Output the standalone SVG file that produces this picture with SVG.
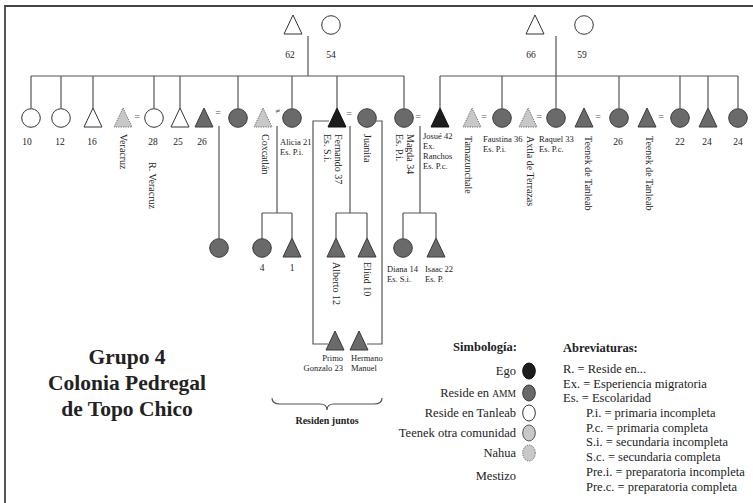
<svg xmlns="http://www.w3.org/2000/svg" xmlns:xlink="http://www.w3.org/1999/xlink" width="753" height="503" viewBox="0 0 753 503">
<style>
text{font-family:"Liberation Serif","Times New Roman",serif;fill:#222}
.frame{fill:none;stroke:#444;stroke-width:1.8}
.ln{fill:none;stroke:#555;stroke-width:1.2}
.white{fill:#fff;stroke:#333;stroke-width:1}
.amm{fill:#6a6a6a;stroke:#3a3a3a;stroke-width:1}
.ego{fill:#1c1c1c;stroke:#111;stroke-width:1}
.teenek{fill:#c8c8c8;stroke:#555;stroke-width:1}
.nahua{fill:#c8c8c8;stroke:#666;stroke-width:1;stroke-dasharray:1.2 1.2}
.num{font-size:9.5px;text-anchor:middle}
.lab{font-size:8.5px}
.vt{font-size:10px}
.eq{font-size:10px;fill:#555;text-anchor:middle}
.title{font-size:21.5px;font-weight:bold;text-anchor:middle}
.leg{font-size:12.5px;text-anchor:end}
.abr{font-size:12.5px}
.hd{font-size:12.5px;font-weight:bold}
</style>
<defs>
<path id="tri" d="M0,-10 L9,9 L-9,9 Z"/>
<circle id="cir" r="9.3"/>
</defs>
<path class="frame" d="M5,503 V6 H753"/>

<g id="connectors">
<path class="ln" d="M308,36 V76 M31,76 H404 M31,76 V108 M61,76 V108 M93,76 V108 M154,76 V108 M180,76 V108 M238,76 V108 M292,76 V108 M337,76 V108 M404,76 V108"/>
<path class="ln" d="M556,36 V76 M440,76 H738 M440,76 V108 M502,76 V108 M556,76 V108 M619,76 V108 M680,76 V108 M708,76 V108 M738,76 V108"/>
<path class="ln" d="M219,126 V238.5"/>
<path class="ln" d="M277,126 V213 M262,213 H292 M262,213 V238.5 M292,213 V238"/>
<path class="ln" d="M350,126 V213 M336,213 H367 M336,213 V238 M367,213 V238"/>
<path class="ln" d="M420,126 V213 M403,213 H436 M403,213 V238.5 M436,213 V238"/>
<path class="ln" d="M329,121 H313 V344 H328 M376,121 H382 V344 H367"/>
<path class="ln" d="M272,398 Q272,404 280,404 H320 Q327,404 327,410 Q327,404 334,404 H374 Q382,404 382,398"/>
</g>

<g id="n62"><use xlink:href="#tri" class="white" x="293" y="25"/><text class="num" x="290" y="58">62</text></g>
<g id="n54"><use xlink:href="#cir" class="white" x="331" y="25"/><text class="num" x="331" y="58">54</text></g>
<g id="n66"><use xlink:href="#tri" class="white" x="535" y="25"/><text class="num" x="531" y="58">66</text></g>
<g id="n59"><use xlink:href="#cir" class="white" x="584" y="25"/><text class="num" x="582" y="58">59</text></g>

<g id="n10"><use xlink:href="#cir" class="white" x="31" y="118"/><text class="num" x="27" y="145">10</text></g>
<g id="n12"><use xlink:href="#cir" class="white" x="61" y="118"/><text class="num" x="60" y="145">12</text></g>
<g id="n16"><use xlink:href="#tri" class="white" x="93" y="118"/><text class="num" x="92" y="145">16</text></g>
<g id="nVeracruz"><use xlink:href="#tri" class="nahua" x="123" y="118"/><text class="vt" transform="translate(119.5,134) rotate(90)">Veracruz</text></g>
<text class="eq" x="137" y="120">=</text>
<g id="n28"><use xlink:href="#cir" class="white" x="154" y="118"/><text class="num" x="153" y="145">28</text><text class="vt" transform="translate(148.5,162) rotate(90)">R. Veracruz</text></g>
<g id="n25"><use xlink:href="#tri" class="white" x="180" y="118"/><text class="num" x="178" y="145">25</text></g>
<g id="n26"><use xlink:href="#tri" class="amm" x="204" y="118"/><text class="num" x="202" y="145">26</text></g>
<text class="eq" x="218" y="116">=</text>
<g id="nF1"><use xlink:href="#cir" class="amm" x="238" y="118"/></g>
<g id="nCoxcatlan"><use xlink:href="#tri" class="nahua" x="263" y="118"/><text class="vt" transform="translate(261.5,134) rotate(90)">Coxcatlán</text></g>
<text class="eq" x="278" y="114" style="font-size:9px">≠</text>
<g id="nAlicia"><use xlink:href="#cir" class="amm" x="292" y="118"/><text class="lab" x="280" y="145">Alicia 21<tspan x="280" dy="10">Es. P.i.</tspan></text></g>
<g id="nFernando"><use xlink:href="#tri" class="ego" x="337" y="118"/><text class="vt" transform="translate(334.5,134) rotate(90)">Fernando 37<tspan x="0" dy="11">Es. S.i.</tspan></text></g>
<text class="eq" x="349" y="117">=</text>
<g id="nJuanita"><use xlink:href="#cir" class="amm" x="367" y="118"/><text class="vt" transform="translate(364,134) rotate(90)">Juanita</text></g>
<g id="nMagda"><use xlink:href="#cir" class="amm" x="404" y="118"/><text class="vt" transform="translate(406.5,134) rotate(90)">Magda 34<tspan x="0" dy="11">Es. P.i.</tspan></text></g>
<text class="eq" x="418" y="120">=</text>
<g id="nJosue"><use xlink:href="#tri" class="ego" x="440" y="118"/><text class="lab" x="423" y="139">Josué 42<tspan x="423" dy="10">Ex.</tspan><tspan x="423" dy="10">Ranchos</tspan><tspan x="423" dy="10">Es. P.c.</tspan></text></g>
<g id="nTamazunchale"><use xlink:href="#tri" class="nahua" x="472" y="118"/><text class="vt" transform="translate(464.5,136) rotate(90)">Tamazunchale</text></g>
<text class="eq" x="484" y="120">=</text>
<g id="nFaustina"><use xlink:href="#cir" class="amm" x="502" y="118"/><text class="lab" x="483" y="142">Faustina 36<tspan x="483" dy="10">Es. P.i.</tspan></text></g>
<g id="nAxtla"><use xlink:href="#tri" class="nahua" x="528" y="118"/><text class="vt" transform="translate(526.5,136) rotate(90)">Axtla de Terrazas</text></g>
<text class="eq" x="539" y="120">=</text>
<g id="nRaquel"><use xlink:href="#cir" class="amm" x="556" y="118"/><text class="lab" x="539" y="142">Raquel 33<tspan x="539" dy="10">Es. P.c.</tspan></text></g>
<g id="nTeenek1"><use xlink:href="#tri" class="amm" x="584" y="118"/><text class="vt" transform="translate(585,136) rotate(90)">Teenek de Tanleab</text></g>
<text class="eq" x="598" y="120">=</text>
<g id="n26b"><use xlink:href="#cir" class="amm" x="619" y="118"/><text class="num" x="618" y="145">26</text></g>
<g id="nTeenek2"><use xlink:href="#tri" class="amm" x="647" y="118"/><text class="vt" transform="translate(646,136) rotate(90)">Teenek de Tanleab</text></g>
<text class="eq" x="661" y="120">=</text>
<g id="n22"><use xlink:href="#cir" class="amm" x="680" y="118"/><text class="num" x="680" y="145">22</text></g>
<g id="n24a"><use xlink:href="#tri" class="amm" x="708" y="118"/><text class="num" x="707" y="145">24</text></g>
<g id="n24b"><use xlink:href="#cir" class="amm" x="738" y="118"/><text class="num" x="738" y="145">24</text></g>

<g id="nG1"><use xlink:href="#cir" class="amm" x="219" y="248"/></g>
<g id="n4"><use xlink:href="#cir" class="amm" x="262" y="248"/><text class="num" x="262" y="271">4</text></g>
<g id="n1"><use xlink:href="#tri" class="amm" x="292" y="248"/><text class="num" x="292" y="271">1</text></g>
<g id="nAlberto"><use xlink:href="#tri" class="amm" x="336" y="248"/><text class="vt" transform="translate(333,262) rotate(90)">Alberto 12</text></g>
<g id="nEliud"><use xlink:href="#tri" class="amm" x="367" y="248"/><text class="vt" transform="translate(364,262) rotate(90)">Eliud 10</text></g>
<g id="nDiana"><use xlink:href="#cir" class="amm" x="403" y="248"/><text class="lab" x="387" y="272">Diana 14<tspan x="387" dy="10">Es. S.i.</tspan></text></g>
<g id="nIsaac"><use xlink:href="#tri" class="amm" x="436" y="248"/><text class="lab" x="425" y="272">Isaac 22<tspan x="425" dy="10">Es. P.</tspan></text></g>

<g id="nPrimo"><use xlink:href="#tri" class="amm" x="335" y="341"/><text class="lab" x="343" y="361" text-anchor="end">Primo<tspan x="343" dy="10">Gonzalo 23</tspan></text></g>
<g id="nHermano"><use xlink:href="#tri" class="amm" x="359" y="341"/><text class="lab" x="351" y="361">Hermano<tspan x="351" dy="10">Manuel</tspan></text></g>
<text x="327" y="424" style="font-size:10px;font-weight:bold;text-anchor:middle">Residen juntos</text>

<g id="title">
<text class="title" x="127" y="364">Grupo 4</text>
<text class="title" x="127" y="390">Colonia Pedregal</text>
<text class="title" x="127" y="416">de Topo Chico</text>
</g>

<g id="legend">
<text class="hd" x="517" y="351" text-anchor="end">Simbología:</text>
<text class="leg" x="516" y="375">Ego</text>
<ellipse cx="529" cy="371" rx="6.3" ry="8" class="ego"/>
<text class="leg" x="516" y="397">Reside en <tspan style="font-size:9.5px">AMM</tspan></text>
<ellipse cx="529" cy="393" rx="6.3" ry="8" class="amm"/>
<text class="leg" x="516" y="417">Reside en Tanleab</text>
<ellipse cx="529" cy="413" rx="6.3" ry="8" class="white"/>
<text class="leg" x="516" y="437">Teenek otra comunidad</text>
<ellipse cx="529" cy="433" rx="6.3" ry="8" class="teenek"/>
<text class="leg" x="516" y="457">Nahua</text>
<ellipse cx="529" cy="453" rx="6.3" ry="8" class="nahua"/>
<text class="leg" x="516" y="480">Mestizo</text>
</g>

<g id="abbrev">
<text class="hd" x="563" y="352">Abreviaturas:</text>
<text class="abr" x="563" y="373">R. = Reside en...</text>
<text class="abr" x="563" y="388">Ex. = Esperiencia migratoria</text>
<text class="abr" x="563" y="402">Es. = Escolaridad</text>
<text class="abr" x="586" y="417">P.i. = primaria incompleta</text>
<text class="abr" x="586" y="432">P.c. = primaria completa</text>
<text class="abr" x="586" y="446">S.i. = secundaria incompleta</text>
<text class="abr" x="586" y="461">S.c. = secundaria completa</text>
<text class="abr" x="586" y="476">Pre.i. = preparatoria incompleta</text>
<text class="abr" x="586" y="491">Pre.c. = preparatoria completa</text>
</g>
</svg>
